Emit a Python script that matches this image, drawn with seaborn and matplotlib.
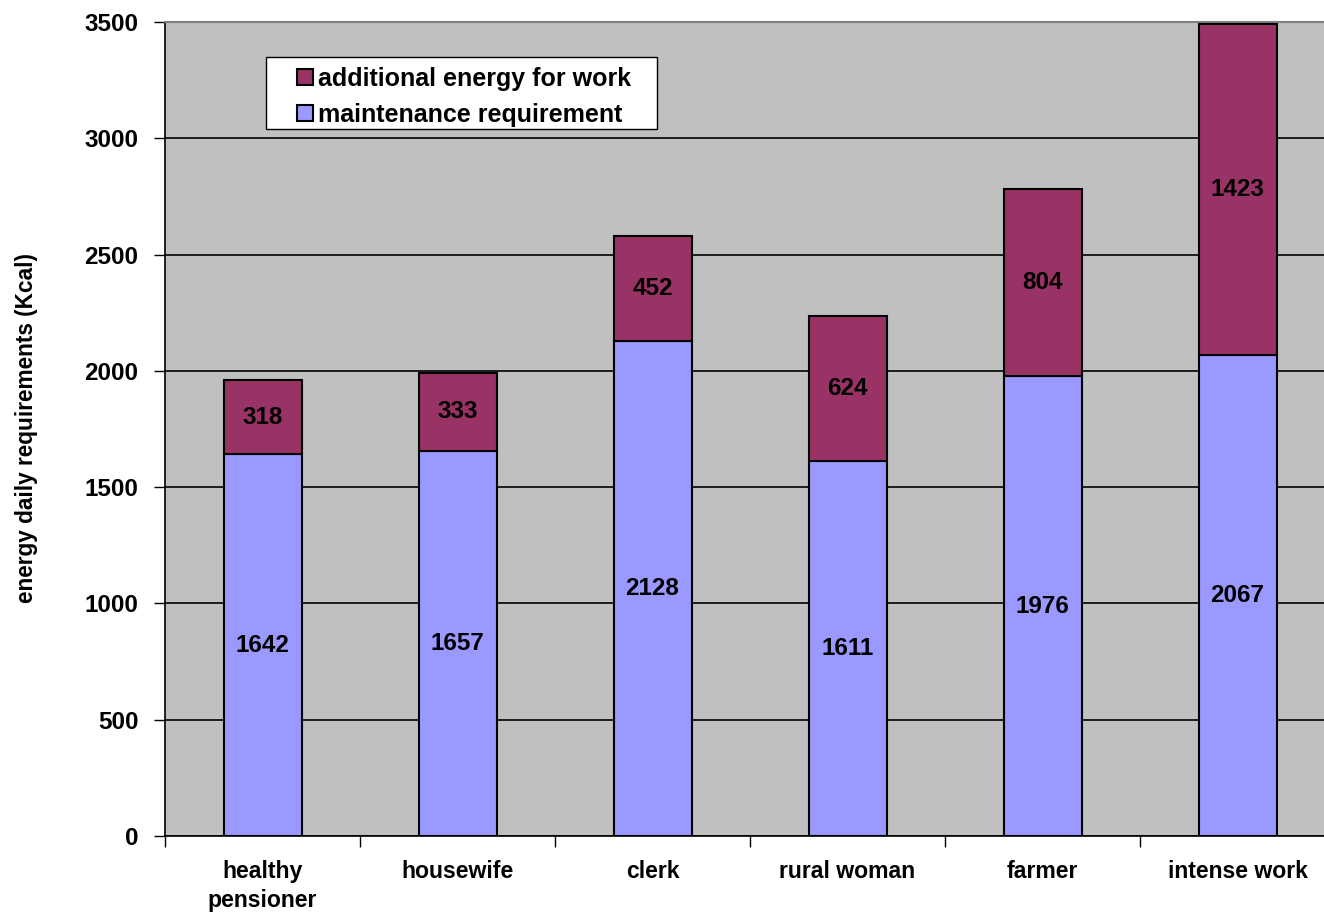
import matplotlib
matplotlib.use("Agg")
import matplotlib.pyplot as plt
import seaborn as sns
import pandas as pd
import numpy as np
from matplotlib.patches import Patch, Rectangle

categories = ["healthy\npensioner", "housewife", "clerk", "rural woman", "farmer", "intense work"]
maintenance = [1642, 1657, 2128, 1611, 1976, 2067]
additional = [318, 333, 452, 624, 804, 1423]
yticks = [0, 500, 1000, 1500, 2000, 2500, 3000, 3500]

sns.set_theme(style="white")
plt.rcParams['font.family'] = ['Liberation Sans', 'DejaVu Sans']
plt.rcParams['font.weight'] = 'bold'
plt.rcParams['text.color'] = 'black'
plt.rcParams['axes.labelcolor'] = 'black'
plt.rcParams['xtick.color'] = 'black'
plt.rcParams['ytick.color'] = 'black'

FS = 17.5
col_maint = "#9999FF"
col_add = "#993366"

W, H = 1324, 913
AX_L, AX_R, AX_T, AX_B = 165, 1335, 22, 836

df = pd.DataFrame({"category": categories, "maintenance": maintenance, "additional": additional})

fig = plt.figure(figsize=(W / 100, H / 100), dpi=100)
ax = fig.add_axes([AX_L / W, 1 - AX_B / H, (AX_R - AX_L) / W, (AX_B - AX_T) / H])
ax.set_facecolor("#C0C0C0")

sns.barplot(data=df, x="category", y="maintenance", color=col_maint, width=0.4,
            edgecolor="black", linewidth=1.5, saturation=1, ax=ax, zorder=3)
sns.barplot(data=df, x="category", y="additional", bottom=df["maintenance"], color=col_add,
            width=0.4, edgecolor="black", linewidth=1.5, saturation=1, ax=ax, zorder=3)

for i, (m, a) in enumerate(zip(maintenance, additional)):
    ax.text(i, m / 2, str(m), ha="center", va="center", fontsize=FS, fontweight="bold", color="black", zorder=4)
    ax.text(i, m + a / 2, str(a), ha="center", va="center", fontsize=FS, fontweight="bold", color="black", zorder=4)

ax.set_ylim(0, 3500)
ax.set_xlim(-0.5, 5.5)
ax.set_yticks(yticks)
ax.set_yticklabels([str(v) for v in yticks], fontsize=FS, fontweight="bold")
ax.yaxis.grid(True, color="black", linewidth=1.2, zorder=0)
ax.set_axisbelow(True)

ax.set_xticks(np.arange(-0.5, 6.0, 1.0))
ax.set_xticklabels([])
ax.set_xticks(np.arange(6), minor=True)
ax.set_xticklabels(categories, minor=True, fontsize=16.6, fontweight="bold", linespacing=1.35)
ax.tick_params(axis="x", which="major", direction="out", length=8, width=1, color="black", bottom=True)
ax.tick_params(axis="x", which="minor", length=0, pad=17)
ax.tick_params(axis="y", direction="out", length=8, width=1, color="black", left=True, pad=11)

ax.set_xlabel("")
ax.set_ylabel("")
fig.text(27 / W, 1 - 428 / H, "energy daily requirements (Kcal)", rotation=90, ha="center", va="center",
         fontsize=16.3, fontweight="bold", color="black")

for s in ["left", "bottom"]:
    ax.spines[s].set_color("black")
    ax.spines[s].set_linewidth(1.2)
ax.spines["top"].set_color("#808080")
ax.spines["top"].set_linewidth(1.5)
ax.spines["right"].set_visible(False)

def ax_x(px):
    return (px - AX_L) / (AX_R - AX_L)

def ax_y(py):
    return (AX_B - py) / (AX_B - AX_T)

box = Rectangle((ax_x(266), ax_y(129)), ax_x(657) - ax_x(266), ax_y(57) - ax_y(129),
                transform=ax.transAxes, facecolor="white", edgecolor="black", linewidth=1.0, zorder=5)
ax.add_patch(box)

handles = [Patch(facecolor=col_add, edgecolor="black", linewidth=1.5, label="additional energy for work"),
           Patch(facecolor=col_maint, edgecolor="black", linewidth=1.5, label="maintenance requirement")]
leg = ax.legend(handles=handles, loc="upper left", bbox_to_anchor=(ax_x(297), ax_y(67)),
                borderaxespad=0, frameon=False, borderpad=0,
                prop={"size": 18, "weight": "bold"}, handlelength=0.64, handleheight=0.64,
                handletextpad=0.2, labelspacing=0.48)
leg.set_zorder(6)

fig.savefig("out.png", dpi=100, facecolor="white")
